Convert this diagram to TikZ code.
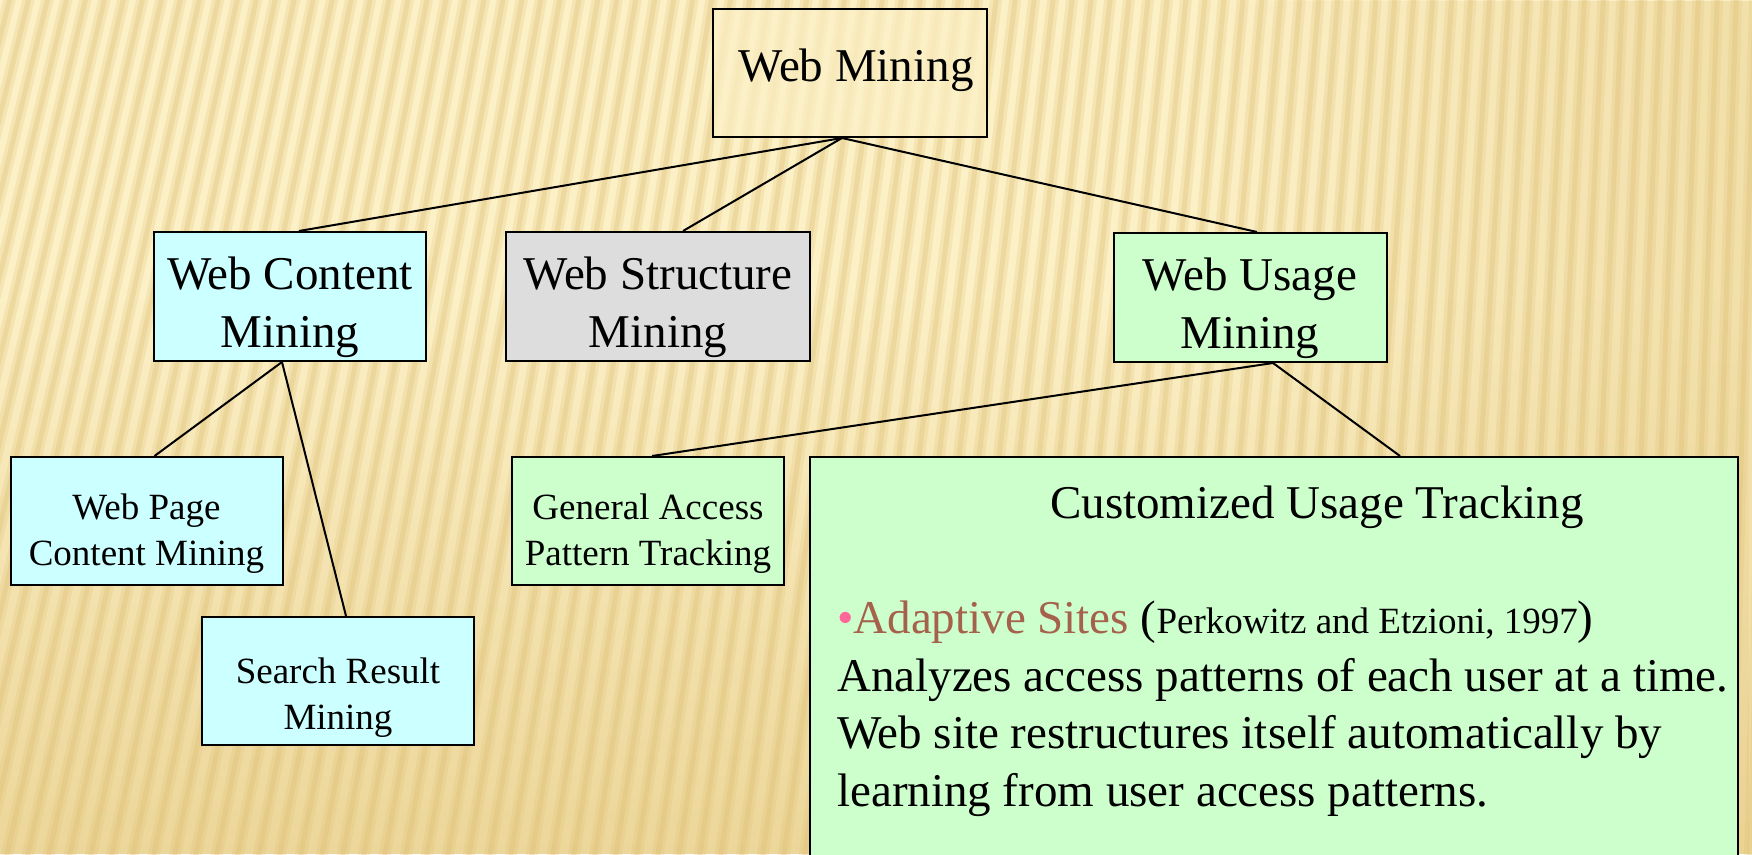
\documentclass[tikz,border=0pt]{standalone}
\usepackage{fontspec}
\setmainfont{Liberation Serif}
\usetikzlibrary{calc,fadings}

\definecolor{bgbase}{HTML}{FCF0C6}
\definecolor{bgdeep}{HTML}{E9D08E}
\definecolor{stripe}{HTML}{DDBE72}
\definecolor{cyanbox}{HTML}{CCFFFF}
\definecolor{greybox}{HTML}{DDDDDD}
\definecolor{greenbox}{HTML}{CCFFCC}
\definecolor{bulletpink}{HTML}{FF6699}
\definecolor{citebrown}{HTML}{A5614B}

\tikzfading[name=fadebottom, top color=transparent!100, bottom color=transparent!0]
\tikzfading[name=faderight, left color=transparent!100, right color=transparent!0]

\newcommand\fsbig{\fontsize{47}{58}\selectfont}
\newcommand\fssmall{\fontsize{37}{46}\selectfont}

\tikzset{
  box/.style={draw=black, line width=2pt, inner sep=0pt, align=center},
  upper/.style={box, minimum width=272pt, minimum height=129pt, font=\fsbig},
  lower/.style={box, minimum width=272pt, minimum height=128pt, font=\fssmall},
  link/.style={draw=black, line width=2pt},
  bodyline/.style={anchor=base west, inner sep=0pt, font=\fsbig}
}

\begin{document}
\begin{tikzpicture}[x=1pt, y=-1pt]
  \useasboundingbox (0,0) rectangle (1752,854);
  \clip (0,0) rectangle (1752,854);

  % striped paper background
  \fill[bgbase] (0,0) rectangle (1752,854);
  \fill[bgdeep, path fading=fadebottom, fill opacity=0.8] (0,300) rectangle (1752,854);
  \fill[bgdeep, path fading=faderight, fill opacity=0.5] (1200,0) rectangle (1752,854);
  \foreach \i in {0,...,106}{
    \pgfmathsetmacro{\xb}{-350+21*\i}
    \pgfmathsetmacro{\xt}{2000+(\xb-2000)*0.8979}
    \pgfmathsetmacro{\xd}{2000+(\xb-2000)*1.0052}
    \draw[stripe, line width=12pt, opacity=0.22] (\xt,-50) -- (\xd,900);
    \draw[stripe, line width=5pt, opacity=0.3] (\xt,-50) -- (\xd,900);
  }

  % hierarchy boxes
  \node[box, fill=bgbase, fill opacity=0.7, text opacity=1, minimum width=274pt,
        minimum height=128pt, font=\fsbig] (wm) at (850,73)
        {\hspace*{12pt}\rule[-16pt]{0pt}{16pt}Web Mining};

  \node[upper, fill=cyanbox]  (wcm) at (290,296.5) {\rule{0pt}{55pt}Web Content\\Mining};
  \node[upper, fill=greybox, minimum width=304pt] (wsm) at (658,296.5) {\rule{0pt}{55pt}Web Structure\\Mining};
  \node[upper, fill=greenbox, minimum width=273pt] (wum) at (1250,297.5) {\rule{0pt}{55pt}Web Usage\\Mining};

  \node[lower, fill=cyanbox]  (wpc) at (146.5,521) {\rule{0pt}{50pt}Web Page\\Content Mining};
  \node[lower, fill=cyanbox]  (srm) at (338,681) {\rule{0pt}{58pt}Search Result\\Mining};
  \node[lower, fill=greenbox] (gap) at (648,521) {\rule{0pt}{50pt}General Access\\Pattern Tracking};

  \node[box, fill=greenbox, minimum width=928pt, minimum height=443pt] (cut) at (1274,678.5) {};

  % text inside the customized tracking panel
  \node[anchor=base, inner sep=0pt, font=\fsbig] (cuttitle) at (1317,518) {Customized Usage Tracking};
  \node[bodyline] (ref) at (837,633)
    {\textcolor{bulletpink}{•}\textcolor{citebrown}{Adaptive Sites} ({\fssmall Perkowitz and Etzioni, 1997})};
  \node[bodyline] (l1) at (837,691) {Analyzes access patterns of each user at a time.};
  \node[bodyline] (l2) at (837,748) {Web site restructures itself automatically by};
  \node[bodyline] (l3) at (837,806) {learning from user access patterns.};

  % connectors
  \coordinate (wmfoot) at ($(wm.south)+(-8,0)$);
  \draw[link] (wmfoot) -- ($(wcm.north)+(9,0)$);
  \draw[link] (wmfoot) -- ($(wsm.north)+(25,0)$);
  \draw[link] (wmfoot) -- ($(wum.north)+(7,0)$);

  \coordinate (wcmfoot) at ($(wcm.south)+(-8,0)$);
  \draw[link] (wcmfoot) -- ($(wpc.north)+(8,0)$);
  \draw[link] (wcmfoot) -- ($(srm.north)+(8,0)$);

  \coordinate (wumfoot) at ($(wum.south)+(23,0)$);
  \draw[link] (wumfoot) -- ($(gap.north)+(4,0)$);
  \draw[link] (wumfoot) -- ($(cut.north)+(126,0)$);
\end{tikzpicture}
\end{document}
